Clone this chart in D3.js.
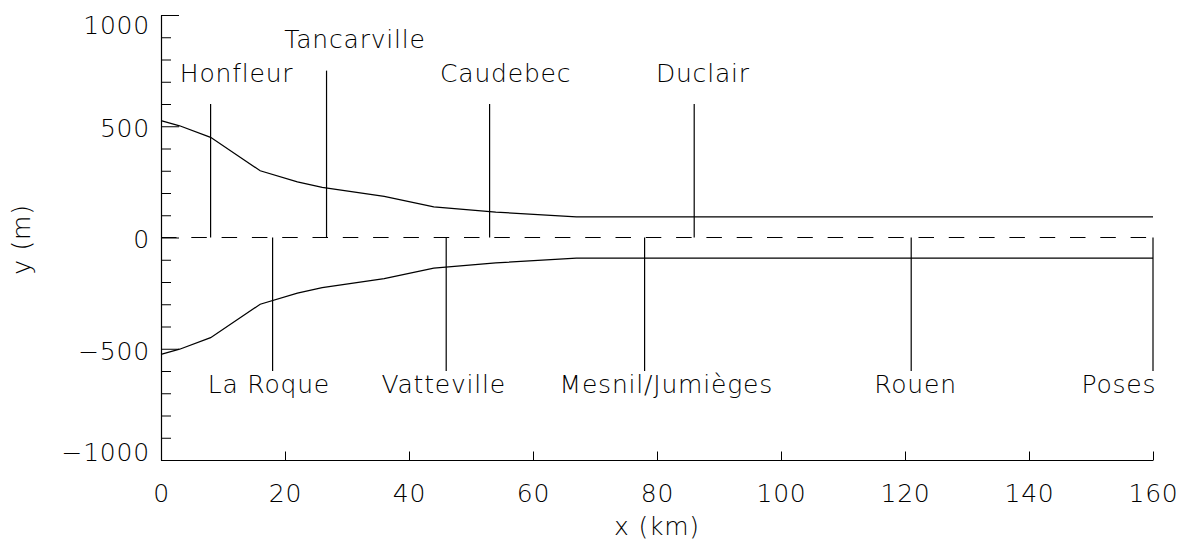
<!DOCTYPE html>
<html>
<head>
<meta charset="utf-8">
<script src="https://cdn.jsdelivr.net/npm/d3@7"></script>
<style>
  body { margin: 0; background: #fff; }
  text { font-family: "DejaVu Sans", sans-serif; font-weight: 200; fill: #000; letter-spacing: 0.8px; }
</style>
</head>
<body>
<svg id="chart" width="1184" height="543"></svg>
<script>
// Along-channel distance (km) and bank positions (m) of the Seine estuary
const channelKm = [0, 3, 8, 16, 22, 26, 36, 44, 54, 67, 160];
const northBank = [525, 502, 450, 300, 250, 225, 185, 138, 114, 93, 93];
const southBank = [-525, -502, -450, -300, -250, -225, -185, -138, -114, -93, -93];

// Stations on the north side
const northNames = ["Honfleur", "Tancarville", "Caudebec", "Duclair"];
const northKm = [8, 26.7, 53, 86];
const northMarkTop = [600, 750, 600, 600];
const northLabelKm = [12.2, 31.3, 55.6, 87.4];
const northLabelY = [700, 850, 700, 700];

// Stations on the south side
const southNames = ["La Roque", "Vatteville", "Mesnil/Jumièges", "Rouen", "Poses"];
const southKm = [18, 46, 78, 121, 160];
const southMarkBottom = [-600, -600, -600, -600, -600];
const southLabelKm = [17.4, 45.6, 81.5, 121.7, 154.5];
const southLabelY = [-700, -700, -700, -700, -700];

// Axis ticks
const xTicks = [0, 20, 40, 60, 80, 100, 120, 140, 160];
const yTicks = d3.range(-1000, 1001, 100);
const yLabelled = [-1000, -500, 0, 500, 1000];

const svg = d3.select("#chart");
const FS = 25;

const x = d3.scaleLinear().domain([0, 160]).range([161, 1153]);
const y = d3.scaleLinear().domain([-1000, 1000]).range([460, 15]);

// x axis
const gx = svg.append("g").attr("transform", `translate(0,${y(-1000)})`)
  .call(d3.axisBottom(x).tickValues(xTicks).tickSize(-8.5).tickSizeOuter(0).tickPadding(24));
gx.select(".domain").attr("stroke", "#000").attr("stroke-width", 1.2);
gx.selectAll(".tick line").attr("stroke", "#000").attr("stroke-width", 1);
gx.selectAll(".tick text").attr("font-size", FS).attr("font-family", null);

// y axis: minor ticks every 100 m, longer ticks every 500 m
const gy = svg.append("g").attr("transform", `translate(${x(0)},0)`)
  .call(d3.axisLeft(y).tickValues(yTicks).tickSize(-10).tickSizeOuter(0).tickPadding(11)
    .tickFormat(d => yLabelled.includes(d) ? d3.format("d")(d).replace("-", "\u2212") : ""));
gy.select(".domain").attr("stroke", "#000").attr("stroke-width", 1.2);
gy.selectAll(".tick line").attr("stroke", "#000").attr("stroke-width", 1)
  .attr("x2", d => (d % 500 === 0) ? 18 : 10);
gy.selectAll(".tick text").attr("font-size", FS).attr("font-family", null)
  .attr("dy", d => d === 1000 ? "0.73em" : (d === -1000 ? "0em" : "0.41em"));

// Channel centre line
svg.append("line")
  .attr("x1", x(0)).attr("x2", x(160)).attr("y1", y(0)).attr("y2", y(0))
  .attr("stroke", "#000").attr("stroke-width", 1.2)
  .attr("stroke-dasharray", "15.5,14.8");

// Banks
const bankLine = vals => d3.line().x((d, i) => x(channelKm[i])).y((d, i) => y(vals[i]))(vals);
svg.append("path").attr("d", bankLine(northBank))
  .attr("fill", "none").attr("stroke", "#000").attr("stroke-width", 1.2);
svg.append("path").attr("d", bankLine(southBank))
  .attr("fill", "none").attr("stroke", "#000").attr("stroke-width", 1.2);

// Station markers and names
northNames.forEach((name, i) => {
  svg.append("line")
    .attr("x1", x(northKm[i])).attr("x2", x(northKm[i]))
    .attr("y1", y(0)).attr("y2", y(northMarkTop[i]))
    .attr("stroke", "#000").attr("stroke-width", 1.2);
  svg.append("text")
    .attr("x", x(northLabelKm[i])).attr("y", y(northLabelY[i]))
    .attr("text-anchor", "middle").attr("font-size", FS)
    .text(name);
});
southNames.forEach((name, i) => {
  svg.append("line")
    .attr("x1", x(southKm[i])).attr("x2", x(southKm[i]))
    .attr("y1", y(0)).attr("y2", y(southMarkBottom[i]))
    .attr("stroke", "#000").attr("stroke-width", 1.2);
  svg.append("text")
    .attr("x", x(southLabelKm[i])).attr("y", y(southLabelY[i]))
    .attr("text-anchor", "middle").attr("font-size", FS)
    .text(name);
});

// Axis titles
svg.append("text")
  .attr("x", (x(0) + x(160)) / 2).attr("y", 535)
  .attr("text-anchor", "middle").attr("font-size", FS)
  .attr("letter-spacing", 2)
  .text("x (km)");
svg.append("text")
  .attr("transform", `translate(30,${(y(-1000) + y(1000)) / 2 + 2}) rotate(-90)`)
  .attr("text-anchor", "middle").attr("font-size", FS)
  .attr("letter-spacing", 2)
  .text("y (m)");
</script>
</body>
</html>
